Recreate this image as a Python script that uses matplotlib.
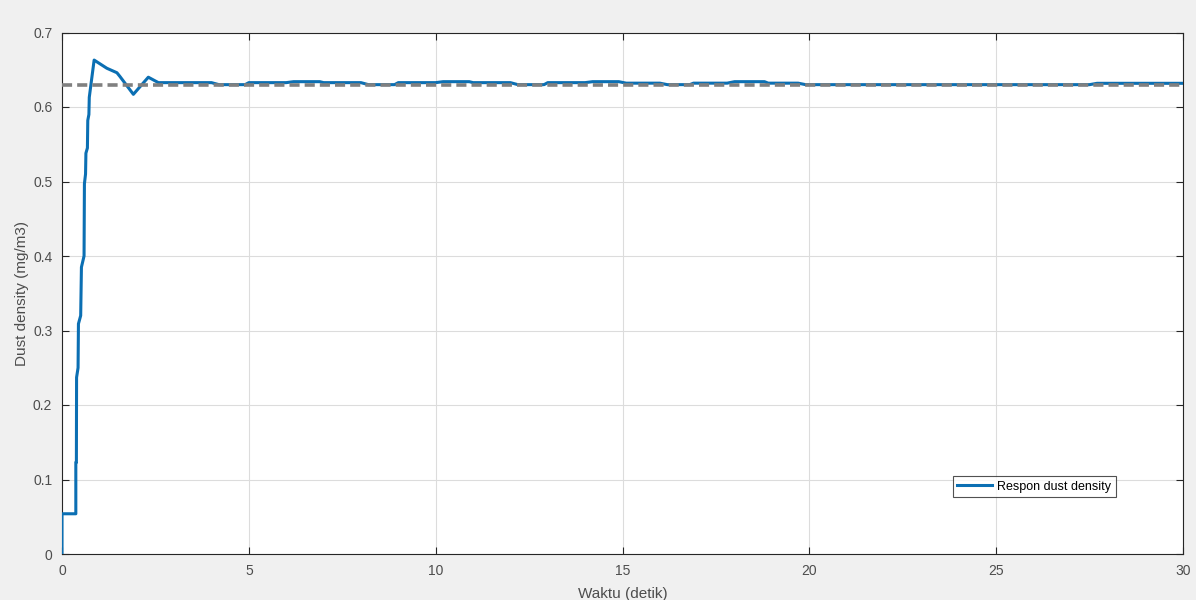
import matplotlib
matplotlib.use('Agg')
import matplotlib.pyplot as plt

# respon sistem
waktu = [0, 0, 0.37, 0.37, 0.385, 0.39, 0.43, 0.44, 0.50, 0.52, 0.59, 0.60, 0.63, 0.64,
         0.68, 0.69, 0.72, 0.73, 0.86, 1.2, 1.47, 1.55, 1.91, 2.31, 2.58,
         4.0, 4.2, 4.9, 5.0, 6.0, 6.2, 6.9, 7.0, 8.0, 8.2, 8.9, 9.0, 10.0, 10.2, 10.9,
         11.0, 12.0, 12.2, 12.9, 13.0, 14.0, 14.2, 14.9, 15.1, 16.0, 16.2, 16.8, 16.9,
         17.8, 18.0, 18.8, 18.9, 19.7, 19.9, 27.5, 27.7, 30]
respon = [0, 0.054, 0.054, 0.123, 0.123, 0.237, 0.25, 0.309, 0.32, 0.385, 0.40, 0.497, 0.51, 0.538,
          0.545, 0.582, 0.59, 0.613, 0.663, 0.652, 0.646, 0.641, 0.617, 0.640, 0.6327,
          0.6327, 0.630, 0.630, 0.6327, 0.6327, 0.634, 0.634, 0.6327, 0.6327, 0.630, 0.630,
          0.6327, 0.6327, 0.634, 0.634, 0.6327, 0.6327, 0.630, 0.630, 0.6327, 0.6327,
          0.634, 0.634, 0.632, 0.632, 0.630, 0.630, 0.632, 0.632, 0.634, 0.634, 0.632,
          0.632, 0.630, 0.630, 0.6318, 0.6318]
setpoint = 0.63

x_ticks = [0, 5, 10, 15, 20, 25, 30]
y_ticks = [0, 0.1, 0.2, 0.3, 0.4, 0.5, 0.6, 0.7]
y_ticklabels = ['0', '0.1', '0.2', '0.3', '0.4', '0.5', '0.6', '0.7']

plt.rcParams['font.family'] = ['Liberation Sans', 'DejaVu Sans']

fig = plt.figure(figsize=(11.96, 6.0), dpi=100, facecolor='#f0f0f0')
ax = fig.add_axes([62 / 1196, 46 / 600, (1183 - 62) / 1196, (554 - 32.5) / 600])
ax.set_facecolor('white')

ax.plot(waktu, respon, color='#0b6fb3', linewidth=2.2, label='Respon dust density', zorder=3)
ax.axhline(setpoint, color='#808080', linewidth=2.6, linestyle=(0, (2.8, 1.4)), zorder=4)

ax.set_xlim(0, 30)
ax.set_ylim(0, 0.7)
ax.set_xticks(x_ticks)
ax.set_yticks(y_ticks)
ax.set_yticklabels(y_ticklabels)
ax.grid(True, color='#dcdcdc', linewidth=0.8)
ax.set_axisbelow(True)
ax.tick_params(direction='in', top=True, right=True, length=5, width=0.8,
               colors='#262626', labelcolor='#4d4d4d', labelsize=10, pad=7)
for s in ax.spines.values():
    s.set_color('#262626')
    s.set_linewidth(0.8)

ax.set_xlabel('Waktu (detik)', fontsize=11, color='#4d4d4d', labelpad=7)
ax.set_ylabel('Dust density (mg/m3)', fontsize=11, color='#4d4d4d', labelpad=3)

leg = ax.legend(loc='lower left', bbox_to_anchor=((953 - 62) / 1121, (554 - 497) / 521.5),
                fontsize=9, frameon=True, fancybox=False, borderaxespad=0,
                handlelength=2.8, borderpad=0.35, handletextpad=0.4)
leg.get_frame().set_edgecolor('#262626')
leg.get_frame().set_linewidth(0.8)

fig.savefig('out.png', dpi=100, facecolor=fig.get_facecolor())
